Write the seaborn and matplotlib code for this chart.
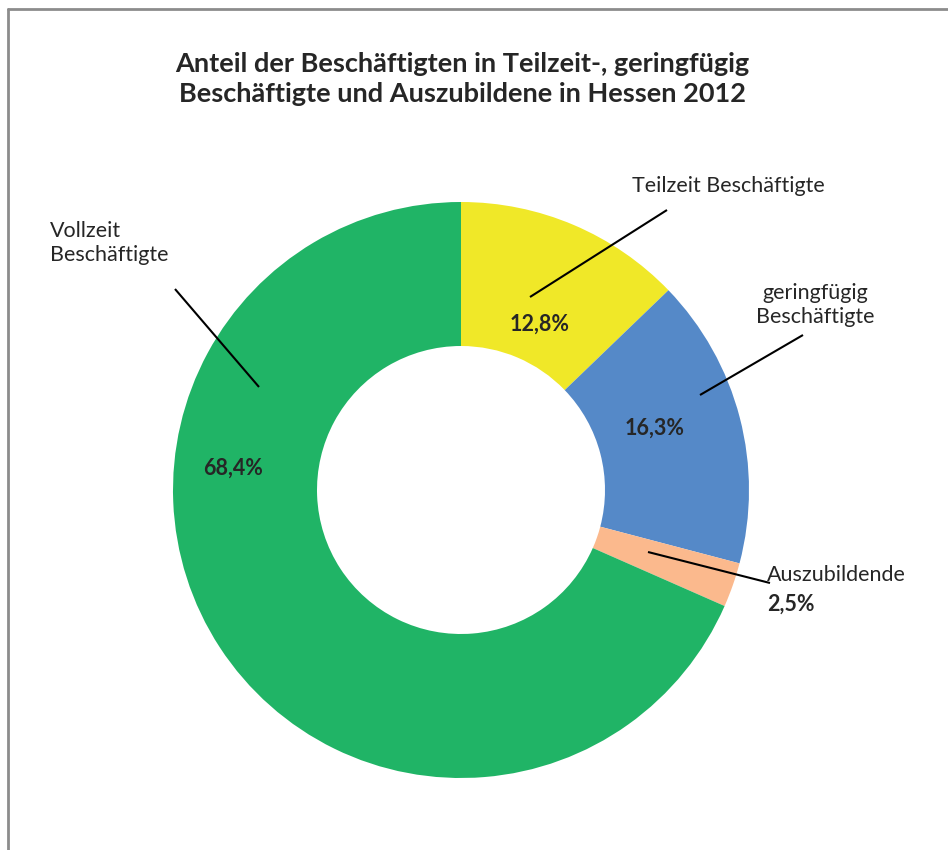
import matplotlib.pyplot as plt
import seaborn as sns

sns.set_style("white")
plt.rcParams['font.family'] = ['Lato', 'DejaVu Sans']

# Anteile in Prozent, im Uhrzeigersinn ab 12 Uhr
labels = ['Teilzeit Beschäftigte', 'geringfügig\nBeschäftigte', 'Auszubildende', 'Vollzeit\nBeschäftigte']
shares = [12.8, 16.3, 2.5, 68.4]
pct_text = ['12,8%', '16,3%', '2,5%', '68,4%']
colors = ['#F0E828', '#5589C8', '#FBB98D', '#20B466']

W, H = 948, 850
fig = plt.figure(figsize=(W / 100, H / 100), dpi=100)
ax = fig.add_axes([0, 0, 1, 1])

def py(y):
    # pixel y from top -> data y
    return H - y

cx, cy, r = 461, py(490), 288
ax.pie(shares, colors=colors, startangle=90, counterclock=False,
       center=(cx, cy), radius=r, frame=True,
       wedgeprops=dict(width=144, linewidth=0))
ax.set_xlim(0, W)
ax.set_ylim(0, H)
ax.set_aspect('equal')
ax.axis('off')

txt = '#262626'
# title
fig.text(0.488, py(79) / H, 'Anteil der Beschäftigten in Teilzeit-, geringfügig\nBeschäftigte und Auszubildene in Hessen 2012',
         ha='center', va='center', fontsize=19.5, fontweight='bold', color=txt, linespacing=1.35)

# percentage labels
fs = 15.5
ax.text(540, py(324), pct_text[0], ha='center', va='center', fontsize=fs, fontweight='bold', color=txt)
ax.text(655, py(428), pct_text[1], ha='center', va='center', fontsize=fs, fontweight='bold', color=txt)
ax.text(233, py(468), pct_text[3], ha='center', va='center', fontsize=fs, fontweight='bold', color=txt)
ax.text(767, py(604), pct_text[2], ha='left', va='center', fontsize=fs, fontweight='bold', color=txt)

# category labels
ax.text(728, py(186), labels[0], ha='center', va='center', fontsize=fs, color=txt)
ax.text(815, py(305), labels[1], ha='center', va='center', fontsize=fs, color=txt, linespacing=1.3)
ax.text(767, py(575), labels[2], ha='left', va='center', fontsize=fs, color=txt)
ax.text(50, py(243), labels[3], ha='left', va='center', fontsize=fs, color=txt, linespacing=1.3)

# leader lines
leaders = [((530, 297), (667, 210)), ((700, 395), (803, 335)),
           ((648, 552), (770, 583)), ((259, 387), (175, 289))]
for (x0, y0), (x1, y1) in leaders:
    ax.plot([x0, x1], [py(y0), py(y1)], color='black', lw=1.5, solid_capstyle='butt')

# chart frame (left and top edge visible)
ax.plot([8, 8], [0, py(9)], color='#8C8C8C', lw=2)
ax.plot([8, W], [py(9), py(9)], color='#8C8C8C', lw=2)

plt.savefig('out.png', dpi=100)
